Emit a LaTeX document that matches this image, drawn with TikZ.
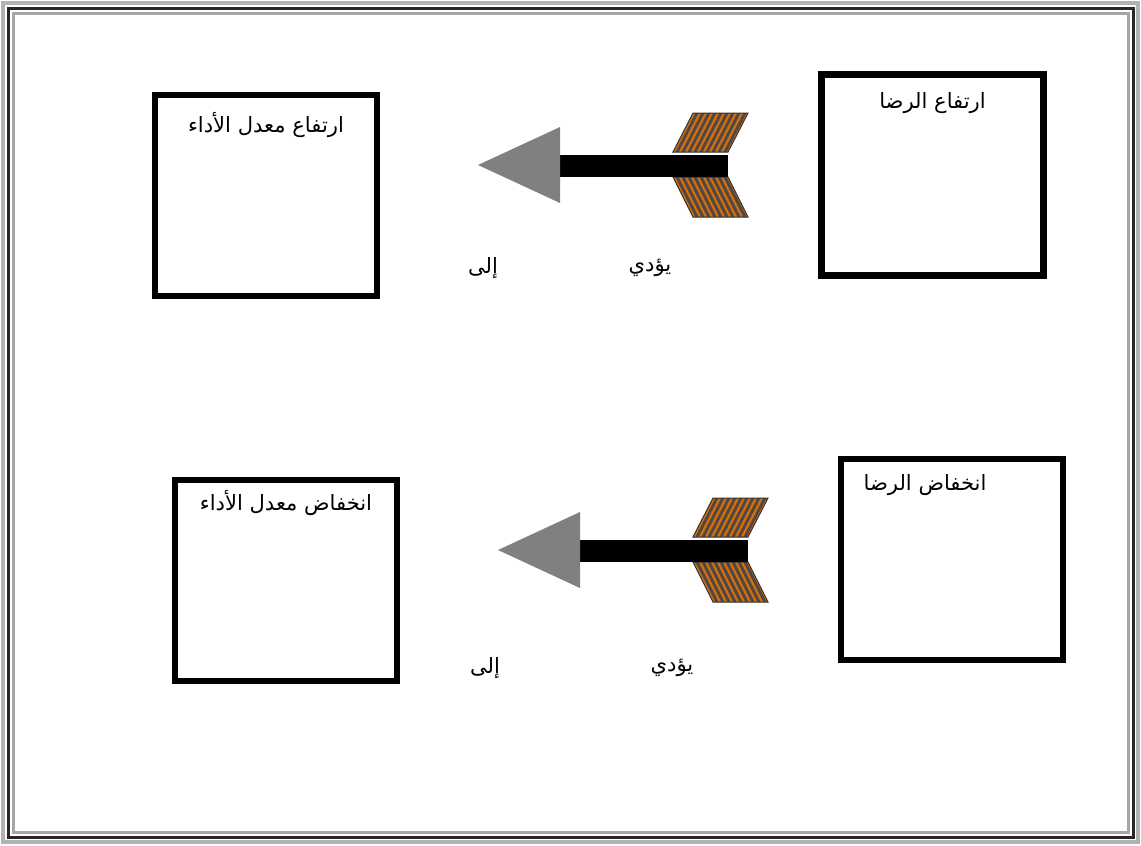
\documentclass[tikz,border=0pt]{standalone}
\usepackage{fontspec}
\usepackage{xcolor}
\usepackage{tikz}
\TeXXeTstate=1
\newfontfamily\arabicfont[Script=Arabic]{DejaVu Sans}
\definecolor{headgray}{RGB}{128,128,128}
\definecolor{fletchorange}{RGB}{214,110,10}
\definecolor{fletchdark}{RGB}{80,72,68}

\begin{document}
\begin{tikzpicture}[
  x=0.02cm, y=-0.02cm,
  box/.style={rectangle, draw=black, line width=6.5*0.02cm, fill=white,
              minimum width=4.44cm, minimum height=4.02cm, inner sep=0pt},
  lbl/.style={font=\arabicfont\fontsize{12}{14}\selectfont, inner sep=1pt},
  head/.style={fill=headgray},
  shaft/.style={fill=black},
  stripe/.style={draw=fletchorange, line width=2.2*0.02cm},
  fletch/.style={draw=black!80, line width=1*0.02cm},
]
\useasboundingbox (0,0) rectangle (1141,845);

% frame
\draw[gray!60, line width=4*0.02cm]  (3,3) rectangle (1138,842);
\draw[black!85, line width=3*0.02cm] (8,8) rectangle (1133,837);
\draw[gray!70, line width=3*0.02cm]  (13,13) rectangle (1128,832);

% boxes
\node[box] (highperf)  at (266,195.5) {};
\node[box] (highsat)   at (932.5,175) {};
\node[box] (lowperf)   at (286,580.5) {};
\node[box] (lowsat)    at (952,559.5) {};

% box texts
\node[lbl] (highperftxt) at (highperf.north |- 0,125) {\beginR ارتفاع معدل الأداء\endR};
\node[lbl] (highsattxt)  at (highsat.north |- 0,103)  {\beginR ارتفاع الرضا\endR};
\node[lbl] (lowperftxt)  at (lowperf.north |- 0,503)  {\beginR انخفاض  معدل الأداء\endR};
\node[lbl] (lowsattxt)   at (925,485)                {\beginR انخفاض الرضا\endR};

% arrow labels
\node[lbl] (leadsA) at (650,268) {\beginR يؤدي\endR};
\node[lbl] (toA)    at (483,268) {\beginR إلى\endR};
\node[lbl] (leadsB) at (672,668) {\beginR يؤدي\endR};
\node[lbl] (toB)    at (485,668) {\beginR إلى\endR};

% arrows (second one shifted down)
\foreach \dx/\dy in {0/0, 20/385} {
  \begin{scope}[shift={(\dx,\dy)}]
    % fletching, upper
    \begin{scope}
      \clip (673,152) -- (728,152) -- (748,113) -- (693,113) -- cycle;
      \fill[fletchdark] (660,100) rectangle (760,160);
      \foreach \i in {0,...,12}
        \draw[stripe] (662+\i*6,152) -- ++(20,-39);
    \end{scope}
    \draw[fletch] (673,152) -- (728,152) -- (748,113) -- (693,113) -- cycle;
    % fletching, lower
    \begin{scope}
      \clip (673,177) -- (728,177) -- (748,217) -- (693,217) -- cycle;
      \fill[fletchdark] (660,170) rectangle (760,225);
      \foreach \i in {0,...,12}
        \draw[stripe] (662+\i*6,177) -- ++(20,40);
    \end{scope}
    \draw[fletch] (673,177) -- (728,177) -- (748,217) -- (693,217) -- cycle;
    % shaft and head
    \fill[shaft] (555,155) rectangle (728,177);
    \fill[head] (478,165) -- (560,127) -- (560,203) -- cycle;
  \end{scope}
}

\end{tikzpicture}
\end{document}
